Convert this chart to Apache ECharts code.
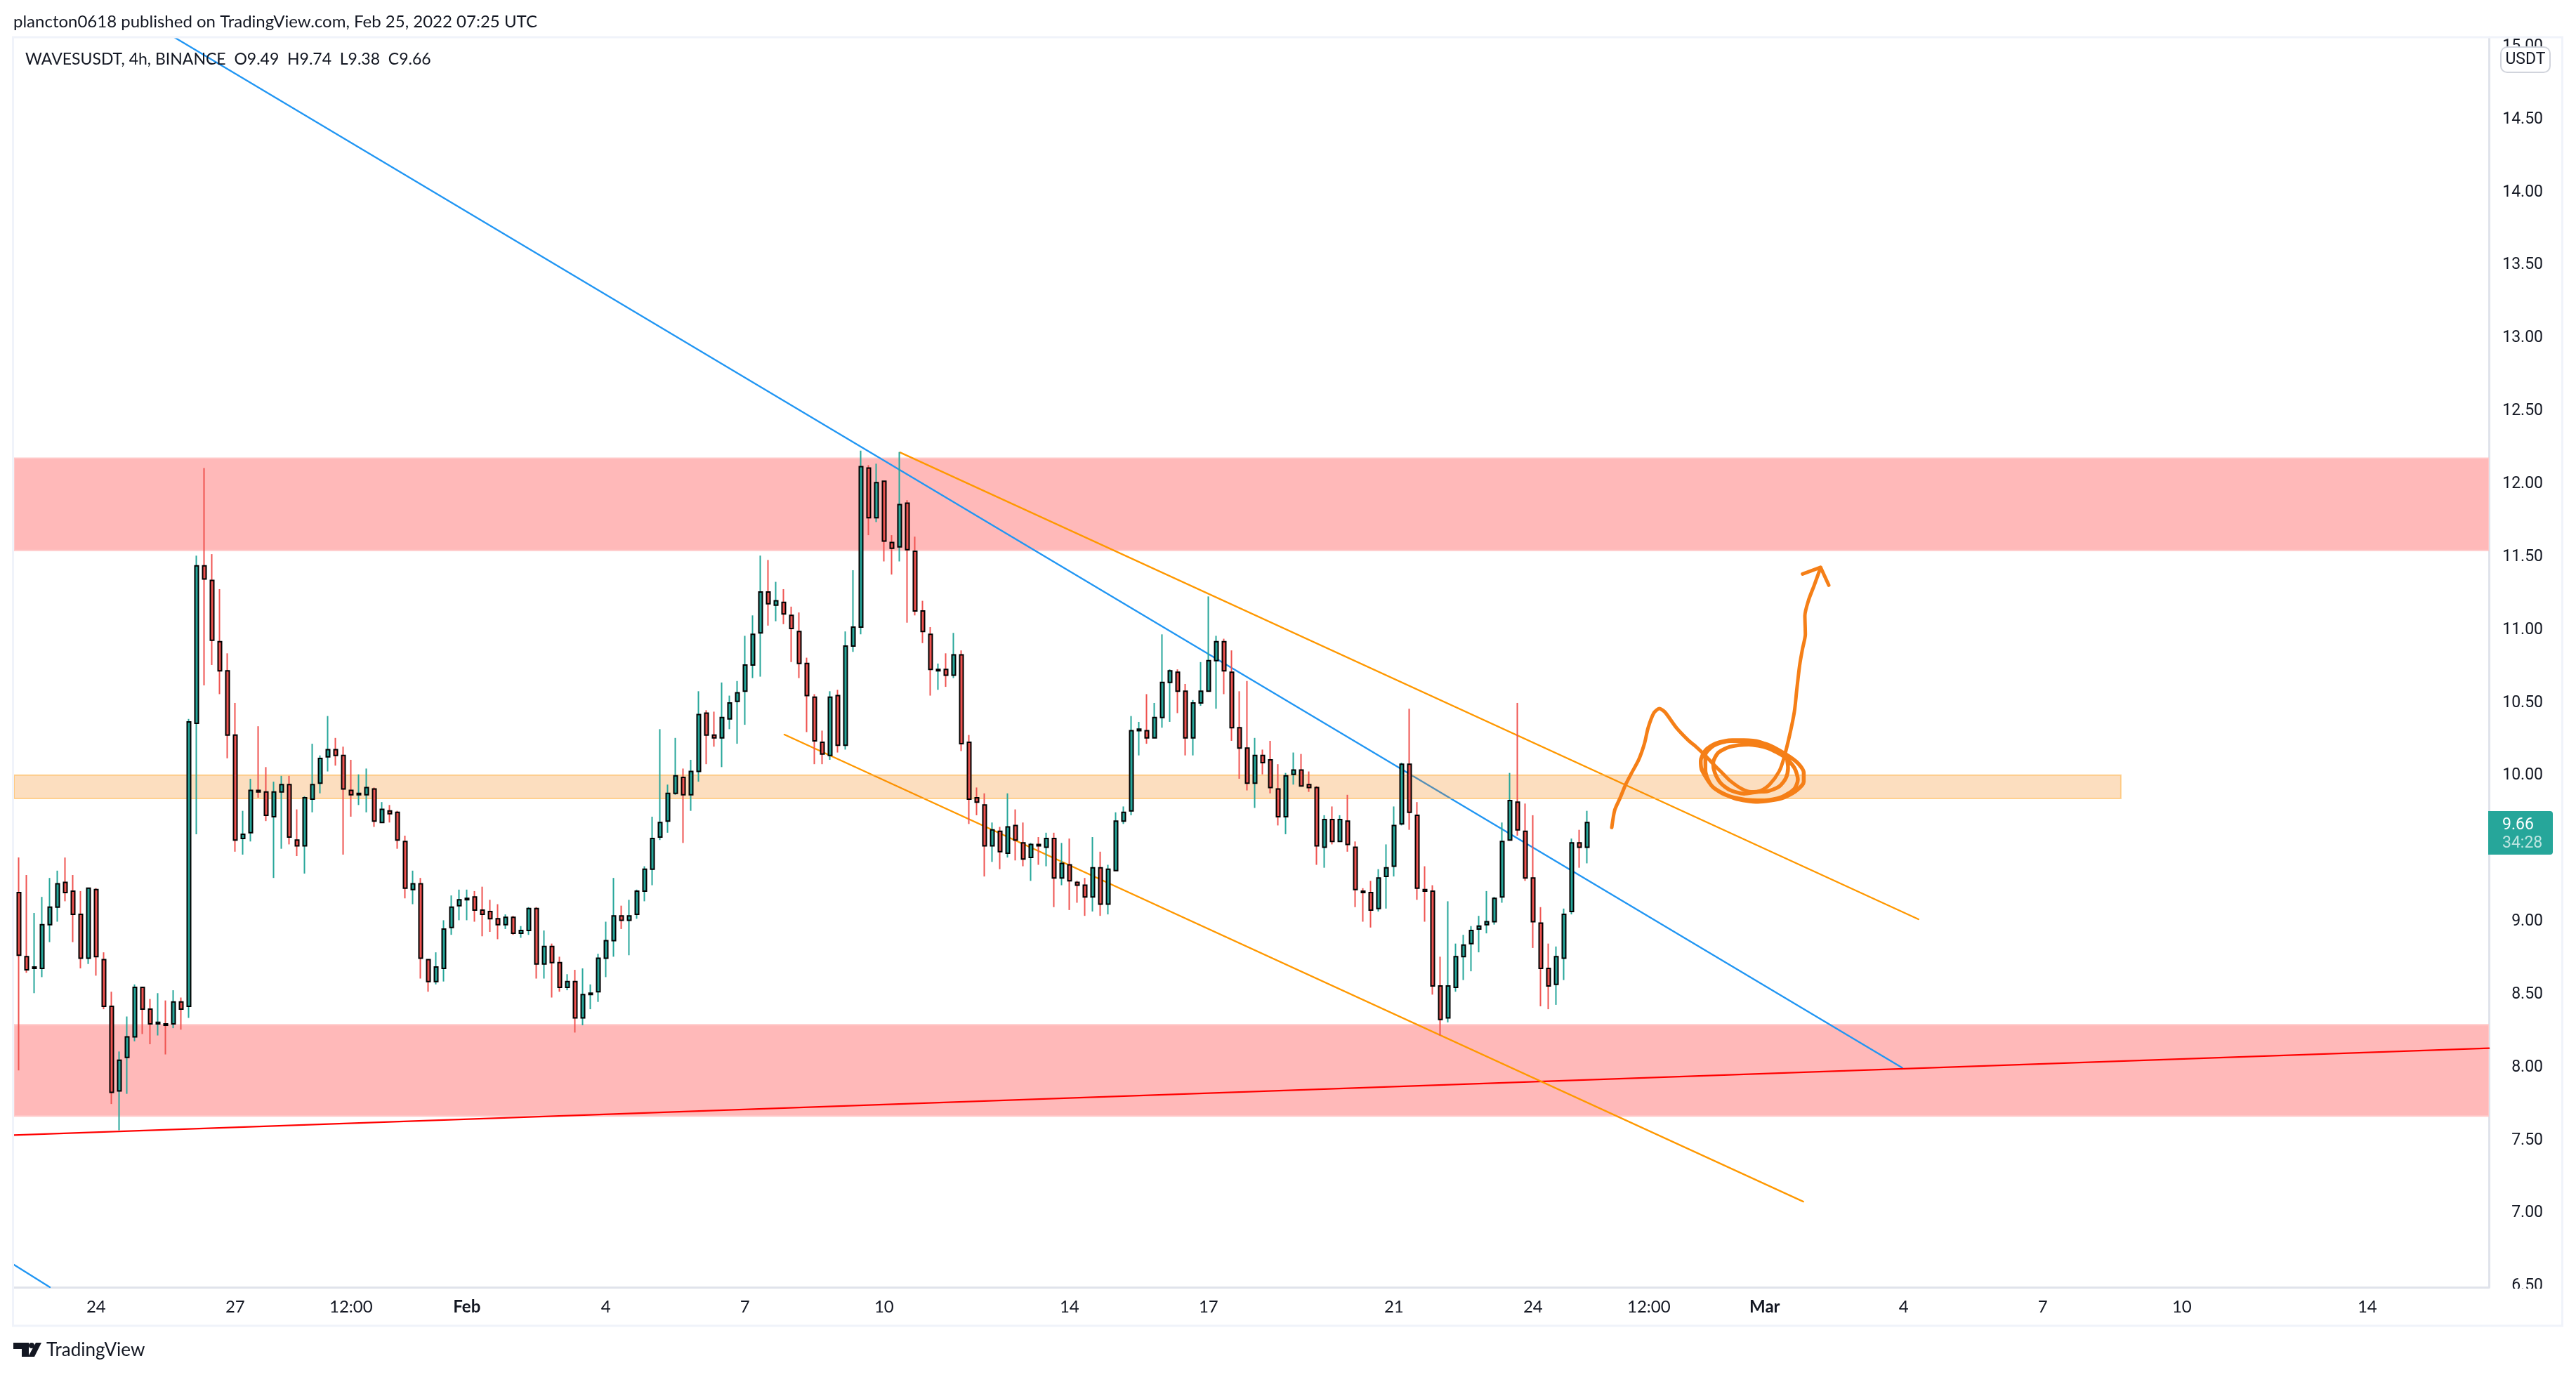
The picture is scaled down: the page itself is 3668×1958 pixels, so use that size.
<!DOCTYPE html>
<html><head><meta charset="utf-8">
<style>html,body{margin:0;padding:0;background:#fff}#c{width:3668px;height:1958px}</style>
<script src="https://cdn.jsdelivr.net/npm/echarts@6/dist/echarts.min.js"></script>
</head><body><div id="c"></div>
<script>
// Candles: one entry per 4h bar, starting Jan 22 08:00 (bar number = position in the arrays)
const opens = [9.18,8.74,8.66,8.66,8.96,9.08,9.25,9.19,9.03,8.73,9.20,8.72,8.40,7.82,8.05,8.19,8.53,8.38,8.28,8.28,8.28,8.43,8.40,10.34,11.42,11.32,10.90,10.70,10.26,9.55,9.59,9.88,9.87,9.70,9.87,9.92,9.54,9.50,9.82,9.93,10.11,10.16,10.12,9.88,9.85,9.85,9.89,9.66,9.74,9.73,9.53,9.20,9.24,8.72,8.57,8.66,8.94,9.09,9.13,9.15,9.06,9.05,9.00,8.96,9.01,8.90,8.92,9.07,8.69,8.81,8.70,8.53,8.57,8.32,8.48,8.50,8.73,8.85,9.02,8.99,9.03,9.19,9.34,9.56,9.67,9.86,9.97,9.85,10.01,
10.41,10.26,10.24,10.37,10.49,10.56,10.74,10.96,11.24,11.15,11.17,11.08,10.97,10.75,10.52,10.21,10.12,10.53,10.19,10.87,11.00,12.09,11.75,12.00,11.58,11.55,11.85,11.52,11.11,10.95,10.70,10.71,10.67,10.81,10.21,9.83,9.78,9.50,9.60,9.45,9.64,9.52,9.42,9.51,9.49,9.55,9.28,9.37,9.25,9.23,9.15,9.35,9.10,9.33,
9.67,9.74,10.29,10.29,10.24,10.38,10.62,10.69,10.56,10.24,10.48,10.56,10.77,10.90,10.69,10.31,10.17,9.93,10.12,10.09,9.89,9.70,9.99,10.02,9.92,9.90,9.49,9.68,9.53,9.67,9.49,9.19,9.18,9.07,9.29,9.36,9.65,10.06,9.71,9.20,
9.19,8.54,8.32,8.53,8.74,8.83,8.93,8.96,8.98,9.15,9.54,9.80,9.60,9.28,8.97,8.66,8.55,8.73,9.05,9.52,9.49];
const closes = [8.75,8.65,8.67,8.96,9.08,9.24,9.18,9.03,8.73,9.21,8.74,8.40,7.81,8.03,8.19,8.53,8.38,8.28,8.29,8.27,8.43,8.38,10.35,11.42,11.33,10.91,10.70,10.26,9.54,9.58,9.88,9.87,9.71,9.87,9.92,9.56,9.50,9.83,9.92,10.10,10.16,10.12,9.89,9.85,9.86,9.90,9.67,9.75,9.72,9.54,9.21,9.24,8.73,8.57,8.67,8.93,9.08,9.13,9.14,9.06,9.03,9.00,8.96,9.01,8.90,8.92,9.07,8.69,8.81,8.70,8.53,8.57,8.32,8.48,8.49,8.73,8.85,9.02,8.99,9.02,9.19,9.34,9.55,9.66,9.86,9.98,9.85,10.01,10.40,
10.26,10.24,10.38,10.48,10.55,10.74,10.95,11.24,11.16,11.18,11.09,10.99,10.75,10.53,10.22,10.13,10.52,10.19,10.87,11.00,12.10,11.75,11.99,11.59,11.54,11.84,11.53,11.11,10.97,10.71,10.71,10.67,10.81,10.20,9.82,9.80,9.50,9.61,9.46,9.63,9.54,9.41,9.51,9.50,9.55,9.28,9.38,9.26,9.23,9.15,9.35,9.10,9.34,9.67,
9.73,10.29,10.30,10.24,10.38,10.62,10.70,10.56,10.24,10.48,10.56,10.77,10.90,10.70,10.31,10.17,9.93,10.12,10.07,9.90,9.70,9.98,10.02,9.91,9.90,9.50,9.68,9.53,9.68,9.51,9.20,9.18,9.06,9.28,9.35,9.64,10.06,9.73,9.21,9.19,
8.54,8.31,8.54,8.74,8.82,8.92,8.95,8.98,9.14,9.53,9.81,9.61,9.28,8.98,8.66,8.54,8.74,9.03,9.52,9.49,9.66];
const lows = [7.96,8.63,8.49,8.60,8.84,8.98,9.12,8.84,8.66,8.69,8.61,8.38,7.73,7.55,7.80,8.16,8.21,8.14,8.20,8.07,8.25,8.24,8.32,9.58,10.60,10.74,10.54,10.10,9.46,9.44,9.53,9.83,9.67,9.28,9.48,9.51,9.43,9.31,9.73,9.86,10.01,10.05,9.44,9.70,9.78,9.73,9.63,9.66,9.66,9.48,9.14,9.10,8.59,8.50,8.55,8.57,8.89,8.99,8.99,8.98,8.88,8.91,8.86,8.93,8.89,8.87,8.89,8.59,8.59,8.46,8.50,8.51,8.22,8.27,8.38,8.43,8.60,8.74,8.93,8.75,9.00,9.12,9.23,9.54,9.59,9.85,9.52,9.74,9.94,
10.06,10.18,10.04,10.30,10.20,10.33,10.65,10.66,11.01,11.04,11.02,10.76,10.65,10.28,10.06,10.06,10.09,10.14,10.16,10.83,10.95,11.63,11.72,11.45,11.36,11.45,11.03,11.08,10.89,10.53,10.57,10.59,10.65,10.15,9.65,9.71,9.29,9.39,9.34,9.42,9.40,9.36,9.26,9.37,9.36,9.08,9.23,9.06,9.11,9.02,9.05,9.02,9.03,9.33,
9.65,9.71,10.12,10.20,10.24,10.31,10.35,10.41,10.12,10.12,10.46,10.56,10.44,10.54,10.22,9.96,9.88,9.76,9.99,9.86,9.64,9.58,9.92,9.91,9.87,9.37,9.35,9.51,9.53,9.46,9.08,8.98,8.94,9.05,9.07,9.29,9.64,9.61,9.13,8.98,
8.48,8.20,8.29,8.50,8.58,8.64,8.77,8.90,8.96,9.11,9.54,9.57,9.26,8.80,8.40,8.38,8.41,8.58,9.03,9.35,9.38];
const highs = [9.42,9.30,9.04,9.15,9.28,9.33,9.42,9.30,9.19,9.21,9.21,8.77,8.50,8.09,8.33,8.55,8.53,8.45,8.49,8.44,8.51,8.46,10.37,11.49,12.09,11.50,11.26,10.82,10.48,9.74,9.96,10.32,10.04,9.94,9.98,9.98,9.75,9.84,10.20,10.12,10.39,10.24,10.18,10.09,9.99,10.03,9.90,9.80,9.78,9.74,9.57,9.33,9.28,8.72,8.77,8.99,9.16,9.20,9.20,9.19,9.22,9.13,9.10,9.03,9.02,8.95,9.08,9.08,8.92,8.83,8.74,8.62,8.65,8.66,8.55,8.76,8.98,9.28,9.09,9.13,9.20,9.36,9.70,10.30,9.92,10.24,10.03,10.09,10.56,
10.43,10.42,10.62,10.53,10.63,10.94,11.08,11.49,11.46,11.31,11.26,11.14,11.10,10.79,10.54,10.29,10.56,10.57,10.97,11.39,12.21,12.11,12.12,12.00,11.63,12.20,11.87,11.62,11.18,11.00,10.75,10.82,10.96,10.84,10.26,9.90,9.86,9.66,9.63,9.86,9.75,9.66,9.52,9.56,9.59,9.59,9.52,9.55,9.26,9.28,9.56,9.46,9.37,9.73,
9.77,10.39,10.35,10.54,10.48,10.95,10.71,10.71,10.61,10.50,10.76,11.21,10.94,10.92,10.84,10.56,10.63,10.24,10.16,10.22,10.06,10.00,10.14,10.13,10.01,9.91,9.71,9.77,9.71,9.85,9.53,9.21,9.26,9.34,9.51,9.77,10.07,10.44,9.80,9.36,
9.23,8.74,9.12,8.83,8.89,8.95,9.02,9.19,9.15,9.66,10.00,10.48,9.79,9.71,9.08,8.83,8.81,9.07,9.55,9.61,9.74];

// Axis ticks
const priceTicks = [6.5,7,7.5,8,8.5,9,9.5,10,10.5,11,11.5,12,12.5,13,13.5,14,14.5,15];
const timeTickBars = [10,28,43,58,76,94,112,136,154,178,196,211,226,244,262,280,304];
const timeTickLabels = ['24','27','12:00','Feb','4','7','10','14','17','21','24','12:00','Mar','4','7','10','14'];

// Price zones [first bar, last bar, low, high]
const redZones = [[-0.62,319.75,11.526,12.158],[-0.62,319.75,7.648,8.274]];
const orangeZones = [[-0.62,272.1,9.825,9.985]];

// Drawn trend lines [bar, price]
const blueMain = [[20.11,15.044],[243.8,7.979]];
const blueLower = [[-0.62,6.628],[4.02,6.474]];
const redTrend = [[-0.62,7.517],[319.75,8.113]];
const orangeUpper = [[114.1,12.197],[245.9,8.997]];
const orangeLower = [[99.1,10.263],[231.0,7.061]];

// Hand-drawn forecast
const sketchMain = [[206.20,9.626],[206.59,9.746],[207.26,9.826],[208.02,9.923],[208.72,9.995],[209.69,10.091],[210.44,10.203],[210.90,10.308],[211.66,10.412],[212.35,10.441],[213.08,10.417],[214.59,10.308],[216.20,10.219],[216.96,10.187],[218.02,10.134],[219.38,10.059],[220.59,9.995],[221.50,9.947],[223.02,9.891],[224.23,9.871],[225.44,9.878],[226.66,9.923],[227.87,10.011],[228.47,10.099],[229.23,10.260],[229.84,10.420],[230.14,10.565],[230.53,10.741],[230.90,10.853],[231.26,10.950],[231.20,11.078],[231.66,11.182],[232.41,11.287],[233.23,11.407]];
const sketchHead = [[230.90,11.364],[233.23,11.410],[234.29,11.287]];
const sketchLoops = [[228.78,10.123],[229.02,10.035],[228.72,9.963],[227.87,9.907],[226.35,9.874],[225.14,9.871],[223.32,9.858],[221.50,9.883],[220.29,9.931],[219.53,10.003],[219.32,10.067],[219.99,10.139],[221.50,10.179],[223.93,10.195],[226.35,10.171],[228.63,10.107],[229.84,10.035],[230.29,9.955],[229.84,9.891],[228.17,9.834],[225.75,9.810],[223.32,9.818],[220.90,9.850],[219.08,9.915],[218.32,10.019],[218.32,10.123],[219.38,10.187],[221.50,10.219],[223.93,10.219],[226.35,10.195],[228.63,10.131],[230.29,10.067],[231.05,10.003],[231.05,9.939],[229.99,9.874],[228.17,9.826],[225.14,9.802],[222.11,9.826],[219.38,9.899],[217.87,10.019],[217.72,10.083],[218.32,10.155],[219.69,10.203],[221.81,10.224],[223.32,10.224],[225.44,10.211],[227.57,10.163],[228.78,10.123]];

const GREEN='#26a69a', RED='#ef5350', INK='#131722', FONT='Roboto, sans-serif', UIFONT='Lato, sans-serif';
const bars = opens.map((o,i)=>i);
const wickData = bars.map(i=>[i,opens[i],closes[i],lows[i],highs[i]]);
const bodyData = bars.map(i=>[i,opens[i],closes[i],Math.min(opens[i],closes[i]),Math.max(opens[i],closes[i])]);

function zoneSeries(data, fill, stroke, z){
  return {type:'custom',z,silent:true,clip:true,animation:false,data,
    encode:{x:[0,1],y:[2,3]},
    renderItem(p,api){
      const a=api.coord([api.value(0),api.value(3)]), b=api.coord([api.value(1),api.value(2)]);
      return {type:'rect',shape:{x:a[0],y:a[1],width:b[0]-a[0],height:b[1]-a[1]},style:{fill,stroke,lineWidth:2}};
    }};
}
function lineSeries(data,color,width,z,smooth){
  return {type:'line',data,z,symbol:'none',silent:true,smooth:smooth||false,animation:false,clip:true,
    lineStyle:{color,width,cap:'round',join:'round'}};
}
const txt=(text,x,y,font,fill,extra)=>({type:'text',z:60,silent:true,style:Object.assign({text,x,y,font,fill,verticalAlign:'middle'},extra||{})});

const chart = echarts.init(document.getElementById('c'),null,{renderer:'canvas',width:3668,height:1958});
chart.setOption({
  animation:false,backgroundColor:'#ffffff',
  grid:{left:20,right:124,top:53,bottom:125,containLabel:false},
  xAxis:{type:'value',min:-0.618,max:319.745,splitLine:{show:false},axisTick:{show:false},
    axisLine:{show:true,onZero:false,lineStyle:{color:'#e0e3eb',width:3}},
    axisLabel:{customValues:timeTickBars,margin:16,fontFamily:UIFONT,fontSize:24,color:INK,verticalAlign:'top',
      formatter:v=>{const t=timeTickLabels[timeTickBars.indexOf(v)];return (t==='Feb'||t==='Mar')?'{m|'+t+'}':t;},
      rich:{m:{fontFamily:UIFONT,fontSize:24,fontWeight:'bold',color:INK}}}},
  yAxis:{type:'value',position:'right',min:6.474,max:15.044,splitLine:{show:false},axisTick:{show:false},
    axisLine:{show:true,onZero:false,lineStyle:{color:'#e0e3eb',width:3}},
    axisLabel:{customValues:priceTicks,margin:77,align:'right',fontFamily:FONT,fontSize:23,color:INK,
      formatter:v=>'{p|'+v.toFixed(2)+'}',
      rich:{p:{fontFamily:FONT,fontSize:23,color:INK,lineHeight:28,padding:[8,0,0,0]}}}},
  series:[
    zoneSeries(redZones,'#ffb9b9','#ffc9c9',1),
    lineSeries(blueMain,'#2196f3',2.4,2),
    lineSeries(blueLower,'#2196f3',2.4,2),
    lineSeries(redTrend,'#ff0000',2.4,2),
    lineSeries(orangeUpper,'#ff9800',2.4,2),
    lineSeries(orangeLower,'#ff9800',2.4,2),
    zoneSeries(orangeZones,'rgba(245,124,0,0.25)','rgba(255,183,77,0.55)',3),
    {type:'candlestick',z:5,silent:true,animation:false,barWidth:1,data:wickData,
      itemStyle:{color:GREEN,color0:RED,borderColor:GREEN,borderColor0:RED,borderWidth:2}},
    {type:'candlestick',z:6,silent:true,animation:false,barWidth:5,data:bodyData,
      itemStyle:{color:GREEN,color0:RED,borderColor:'#000000',borderColor0:'#000000',borderWidth:2}},
    lineSeries(sketchMain,'#f57f17',5,8,0.25),
    lineSeries(sketchLoops,'#f57f17',5.5,8,0.25),
    lineSeries(sketchHead,'#f57f17',5,8)
  ],
  graphic:[
    {type:'rect',z:50,silent:true,shape:{x:3546,y:0,width:110,height:52},style:{fill:'#fff'}},
    {type:'rect',z:50,silent:true,shape:{x:3546,y:1835,width:102,height:52},style:{fill:'#fff'}},
    {type:'rect',z:52,silent:true,shape:{x:18.5,y:53,width:3630,height:1835},style:{fill:'none',stroke:'#f0f3fa',lineWidth:3}},
    txt('plancton0618 published on TradingView.com, Feb 25, 2022 07:25 UTC',19,31,'24px '+UIFONT,INK),
    txt('WAVESUSDT, 4h, BINANCE  O9.49  H9.74  L9.38  C9.66',36,85,'23px '+UIFONT,INK),
    {type:'rect',z:58,silent:true,shape:{x:3561,y:67,width:70,height:36,r:9},style:{fill:'#fff',stroke:'#d1d4dc',lineWidth:2}},
    txt('USDT',3596,85,'23px '+FONT,INK,{align:'center'}),
    {type:'rect',z:58,silent:true,shape:{x:3543,y:1155,width:92,height:62,r:[0,4,4,0]},style:{fill:GREEN}},
    txt('9.66',3563,1175,'23px '+FONT,'#ffffff'),
    txt('34:28',3563,1201,'23px '+FONT,'#bee5e1'),
    {type:'polygon',z:60,silent:true,shape:{points:[[19,1912],[41,1912],[41,1932],[31,1932],[31,1921],[19,1921]]},style:{fill:INK}},
    {type:'circle',z:60,silent:true,shape:{cx:45,cy:1916,r:4},style:{fill:INK}},
    {type:'polygon',z:60,silent:true,shape:{points:[[51,1912],[59,1912],[49,1932],[40,1932]]},style:{fill:INK}},
    txt('TradingView',66,1923,'26px '+UIFONT,INK)
  ]
});
</script></body></html>
